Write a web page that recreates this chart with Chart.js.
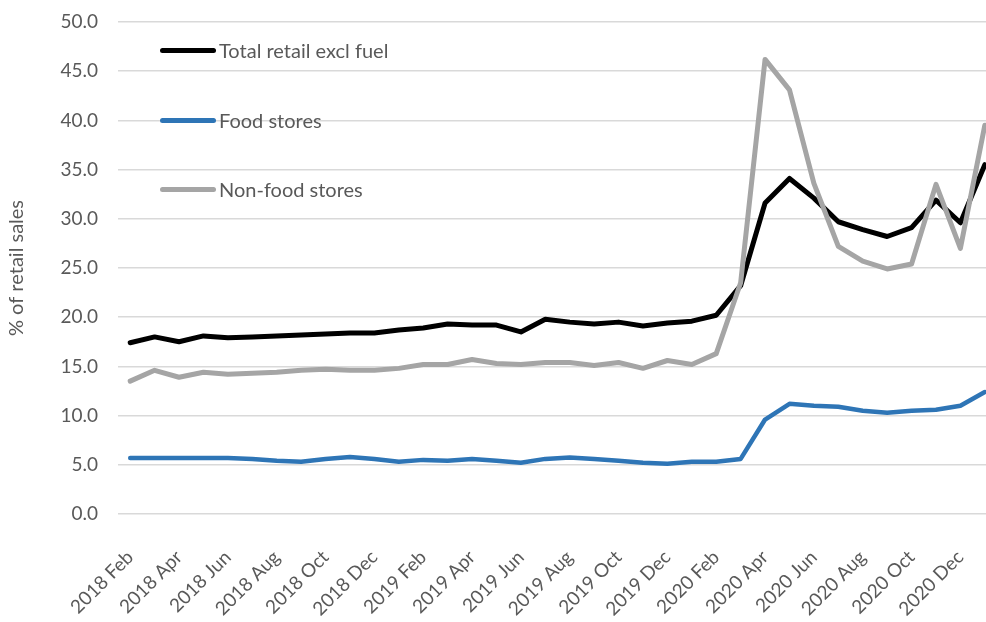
<!DOCTYPE html>
<html>
<head>
<meta charset="utf-8">
<script src="https://cdn.jsdelivr.net/npm/chart.js@4/dist/chart.umd.min.js"></script>
<style>
    html, body { margin: 0; padding: 0; background: #fff; overflow: hidden; }
    #wrap { position: relative; width: 1025px; height: 622px; }
    .legend-item { position: absolute; left: 160px; height: 24px; display: flex; align-items: center; font-family: Lato, sans-serif; font-size: 20px; color: #595959; }
    .legend-line { width: 56px; height: 5px; border-radius: 3px; margin-right: 3px; }
</style>
</head>
<body>
<div id="wrap">
    <canvas id="mainChart"></canvas>
</div>
<script>
// monthly, 2018 Feb .. 2021 Jan
const months = [
    '2018 Feb', '2018 Mar', '2018 Apr', '2018 May', '2018 Jun', '2018 Jul',
    '2018 Aug', '2018 Sep', '2018 Oct', '2018 Nov', '2018 Dec', '2019 Jan',
    '2019 Feb', '2019 Mar', '2019 Apr', '2019 May', '2019 Jun', '2019 Jul',
    '2019 Aug', '2019 Sep', '2019 Oct', '2019 Nov', '2019 Dec', '2020 Jan',
    '2020 Feb', '2020 Mar', '2020 Apr', '2020 May', '2020 Jun', '2020 Jul',
    '2020 Aug', '2020 Sep', '2020 Oct', '2020 Nov', '2020 Dec', '2021 Jan'
];

const seriesNames = ['Total retail excl fuel', 'Food stores', 'Non-food stores'];

const totalRetail = [17.4, 18.0, 17.5, 18.1, 17.9, 18.0, 18.1, 18.2, 18.3, 18.4, 18.4, 18.7,
    18.9, 19.3, 19.2, 19.2, 18.5, 19.8, 19.5, 19.3, 19.5, 19.1, 19.4, 19.6,
    20.2, 23.2, 31.6, 34.1, 32.1, 29.7, 28.9, 28.2, 29.1, 31.9, 29.6, 35.5];

const foodStores = [5.7, 5.7, 5.7, 5.7, 5.7, 5.6, 5.4, 5.3, 5.6, 5.8, 5.6, 5.3,
    5.5, 5.4, 5.6, 5.4, 5.2, 5.6, 5.75, 5.6, 5.4, 5.2, 5.1, 5.3,
    5.3, 5.6, 9.6, 11.2, 11.0, 10.9, 10.5, 10.3, 10.5, 10.6, 11.0, 12.4];

const nonFoodStores = [13.5, 14.6, 13.9, 14.4, 14.2, 14.3, 14.4, 14.6, 14.7, 14.6, 14.6, 14.8,
    15.2, 15.2, 15.7, 15.3, 15.2, 15.4, 15.4, 15.1, 15.4, 14.8, 15.6, 15.2,
    16.3, 23.5, 46.2, 43.1, 33.6, 27.2, 25.7, 24.9, 25.4, 33.5, 27.0, 39.5];

const colors = ['#000000', '#2e75b6', '#a5a5a5'];
const legendTops = [38, 108, 177];

const textColor = '#595959';
const font = 'Lato, sans-serif';

const datasets = [totalRetail, foodStores, nonFoodStores].map((data, i) => ({
    label: seriesNames[i],
    data: data,
    borderColor: colors[i],
    backgroundColor: colors[i],
    borderWidth: i === 1 ? 4.5 : 5,
    pointRadius: 0,
    tension: 0,
    fill: false,
    borderJoinStyle: 'round',
    borderCapStyle: 'round',
    order: 2 - i
}));

// legend placed inside the plot, like the original
const wrap = document.getElementById('wrap');
seriesNames.forEach((name, i) => {
    const item = document.createElement('div');
    item.className = 'legend-item';
    item.style.top = legendTops[i] + 'px';
    const line = document.createElement('span');
    line.className = 'legend-line';
    line.style.background = colors[i];
    const txt = document.createElement('span');
    txt.textContent = name;
    item.appendChild(line);
    item.appendChild(txt);
    wrap.appendChild(item);
});

new Chart(document.getElementById('mainChart'), {
    type: 'line',
    data: { labels: months, datasets },
    options: {
        responsive: true,
        maintainAspectRatio: false,
        animation: false,
        layout: { padding: { top: 22, right: 4 } },
        plugins: { legend: { display: false }, tooltip: { enabled: false } },
        scales: {
            x: {
                offset: true,
                grid: { display: false },
                border: { display: false },
                afterFit(scale) { scale.height = 108; },
                ticks: {
                    autoSkip: false,
                    maxRotation: 45,
                    minRotation: 45,
                    padding: 24,
                    color: textColor,
                    font: { family: font, size: 19 },
                    callback(value, index) { return index % 2 === 0 ? months[index] : ''; }
                }
            },
            y: {
                min: 0,
                max: 50,
                afterFit(scale) {
                    scale.width = 118;
                    scale.paddingTop = 0;
                    scale.paddingBottom = 0;
                },
                border: { display: false },
                grid: { color: '#d9d9d9', lineWidth: 1.5, drawTicks: false },
                ticks: {
                    stepSize: 5,
                    padding: 20,
                    color: textColor,
                    font: { family: font, size: 19 },
                    callback: v => v.toFixed(1)
                },
                title: {
                    display: true,
                    text: '% of retail sales',
                    color: textColor,
                    font: { family: font, size: 20 },
                    padding: { top: 5, bottom: 0 }
                }
            }
        }
    }
});
</script>
</body>
</html>
